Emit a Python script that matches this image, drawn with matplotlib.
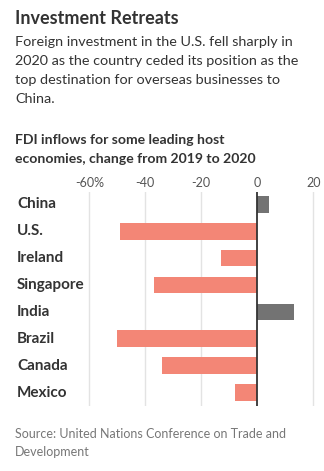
import matplotlib
matplotlib.use("Agg")
import matplotlib.pyplot as plt

categories = ["China", "U.S.", "Ireland", "Singapore", "India", "Brazil", "Canada", "Mexico"]
values = [4, -49, -13, -37, 13, -50, -34, -8]
xticks = [-60, -40, -20, 0, 20]
xtick_labels = ["-60%", "-40", "-20", "0", "20"]

W, H = 324, 471
fig = plt.figure(figsize=(W / 100, H / 100), dpi=100)
FONT = "Lato"

def fx(x):
    return x / W

def fy(y):
    return 1 - y / H

# axes placement (pixel coords)
xmin, xmax = -62, 21
ppu = 2.8
left_px = 257.3 + xmin * ppu
right_px = 257.3 + xmax * ppu
top_px, bot_px = 191.7, 406
ax = fig.add_axes([fx(left_px), fy(bot_px), (right_px - left_px) / W, (bot_px - top_px) / H])
ax.set_xlim(xmin, xmax)
ax.set_ylim(7.5, -0.47)

colors = ["#737373" if v > 0 else "#F38676" for v in values]
ax.barh(range(len(categories)), values, height=0.62, color=colors, zorder=2)
for t in xticks:
    if t != 0:
        ax.axvline(t, color="#e3e3e3", lw=1, zorder=1)
ax.axvline(0, color="#333333", lw=1.3, zorder=3)

for s in ax.spines.values():
    s.set_visible(False)
ax.set_xticks(xticks)
ax.set_xticklabels(xtick_labels)
ax.xaxis.tick_top()
ax.tick_params(axis="x", length=0, pad=2, labelsize=9, labelcolor="#555555")
for lab in ax.get_xticklabels():
    lab.set_fontfamily(FONT)
ax.set_yticks([])
ax.patch.set_alpha(0)

for i, c in enumerate(categories):
    y_px = 204.3 + 26.9 * i
    fig.text(fx(17), fy(y_px), c, fontsize=11, fontweight="bold", color="#333333",
             family=FONT, va="center", ha="left")

fig.text(fx(15), fy(19), "Investment Retreats", fontsize=13, fontweight="bold",
         color="#333333", family=FONT, va="center")
sub = ["Foreign investment in the U.S. fell sharply in",
       "2020 as the country ceded its position as the",
       "top destination for overseas businesses to",
       "China."]
for i, line in enumerate(sub):
    fig.text(fx(15), fy(42 + 19 * i), line, fontsize=10.4, color="#333333",
             family=FONT, va="center")
ct = ["FDI inflows for some leading host", "economies, change from 2019 to 2020"]
for i, line in enumerate(ct):
    fig.text(fx(15), fy(140 + 19 * i), line, fontsize=10.1, fontweight="bold",
             color="#333333", family=FONT, va="center")
src = ["Source: United Nations Conference on Trade and", "Development"]
for i, line in enumerate(src):
    fig.text(fx(15), fy(434 + 18 * i), line, fontsize=9, color="#777777",
             family=FONT, va="center")

fig.savefig("out.png", dpi=100, facecolor="white")
